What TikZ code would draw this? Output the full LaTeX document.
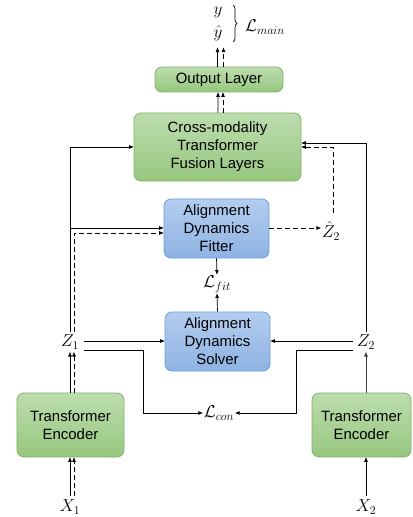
\documentclass[tikz,border=0pt]{standalone}
\usepackage{fontspec}
\setmainfont{Liberation Sans}
\usetikzlibrary{arrows.meta,decorations.pathreplacing}
\definecolor{gtop}{HTML}{BCDDAE}
\definecolor{gbot}{HTML}{97C77F}
\definecolor{gbor}{HTML}{82B366}
\definecolor{btop}{HTML}{B3CDEF}
\definecolor{bbot}{HTML}{8EB3E2}
\definecolor{bbor}{HTML}{6C9EDB}
\begin{document}
\begin{tikzpicture}[x=1bp,y=-1bp,
  every node/.style={font=\fontsize{15}{18}\selectfont},
  gbox/.style={draw=gbor,line width=0.8bp,rounded corners=7bp,top color=gtop,bottom color=gbot,align=center,inner sep=0pt},
  bbox/.style={draw=bbor,line width=0.8bp,rounded corners=7bp,top color=btop,bottom color=bbot,align=center,inner sep=0pt},
  lab/.style={inner sep=1bp,font=\fontsize{18}{20}\selectfont},
  arr/.style={line width=0.7bp,-{Triangle[length=4.5bp,width=3.5bp]}},
  dsh/.style={dashed,dash pattern=on 5bp off 3bp},
  ln/.style={line width=0.7bp}]
\useasboundingbox (0,0) rectangle (412,517);

% boxes
\node[gbox,minimum width=128bp,minimum height=25bp] (out) at (219,79.5) {Output Layer};
\node[gbox,minimum width=167bp,minimum height=68bp] (cross) at (217.5,147) {Cross-modality\\Transformer\\Fusion Layers};
\node[bbox,minimum width=105bp,minimum height=59bp] (fit) at (216.5,228.5) {Alignment\\Dynamics\\Fitter};
\node[bbox,minimum width=105bp,minimum height=59bp] (solv) at (217.5,341.5) {Alignment\\Dynamics\\Solver};
\node[gbox,minimum width=107bp,minimum height=64bp] (enc1) at (70.5,425) {Transformer\\Encoder};
\node[gbox,minimum width=99bp,minimum height=64bp] (enc2) at (361.5,425) {Transformer\\Encoder};

% labels
\node[lab] (y) at (218,12) {$y$};
\node[lab] (yh) at (218,33) {$\hat{y}$};
\node[lab,anchor=west] (lmain) at (244,27) {$\mathcal{L}_{main}$};
\node[lab] (z1) at (70,342) {$Z_1$};
\node[lab] (z2) at (366,342) {$Z_2$};
\node[lab] (x1) at (70,507) {$X_1$};
\node[lab] (x2) at (366,507) {$X_2$};
\node[lab] (zh2) at (331,231) {$\hat{Z}_2$};
\node[lab] (lfit) at (217,284) {$\mathcal{L}_{fit}$};
\node[lab] (lcon) at (219,413) {$\mathcal{L}_{con}$};

% brace
\draw[ln,decorate,decoration={brace,amplitude=4bp}] (233,5) -- (233,42);

% coordinates
\coordinate (z1s) at (70,332);
\coordinate (z1d) at (74,332);
\coordinate (z1b) at (70,352);
\coordinate (z1db) at (74,352);
\coordinate (z1r) at (84,341);
\coordinate (z1r2) at (84,350);
\coordinate (z2t) at (366,332);
\coordinate (z2b) at (366,352);
\coordinate (z2l) at (353,341);
\coordinate (z2l2) at (353,350);
\coordinate (x1s) at (70,496);
\coordinate (x1d) at (74,496);
\coordinate (x2t) at (366,496);
\coordinate (zh2t) at (333,213);

% output arrows
\draw[arr] ([xshift=-1.5bp]out.north) -- ++(0,-19);
\draw[arr,dsh] ([xshift=4.5bp]out.north) -- ++(0,-19);
\draw[arr] ([xshift=0.5bp]cross.north) -- ([xshift=-1bp]out.south);
\draw[arr,dsh] ([xshift=5.5bp]cross.north) -- ([xshift=4bp]out.south);

% Z1 upward
\draw[arr] (z1s) |- (cross.west |- 0,147);
\draw[arr] (70,228) -- (fit.west |- 0,228);
\draw[arr,dsh] (z1d) |- (fit.west |- 0,233);

% fitter outputs
\draw[arr,dsh] (fit.east |- 0,228) -- (zh2.west |- 0,228);
\draw[arr,dsh] (zh2t) |- (cross.east |- 0,147);
\draw[arr] (fit.south) -- (lfit.north);
\draw[arr] (solv.north) -- (lfit.south);

% Z2 upward
\draw[arr] (z2t) |- (cross.east |- 0,143);

% solver inputs
\draw[arr] (z1r) -- (solv.west |- z1r);
\draw[arr] (z2l) -- (solv.east |- z2l);

% contrastive
\draw[arr] (z1r2) -| (143,413) -- (lcon.west);
\draw[arr] (z2l2) -| (296,413) -- (lcon.east);

% encoders
\draw[arr] (enc1.north -| z1b) -- (z1b);
\draw[arr,dsh] (enc1.north -| z1db) -- (z1db);
\draw[arr] (x1s) -- (enc1.south -| x1s);
\draw[arr,dsh] (x1d) -- (enc1.south -| x1d);
\draw[arr,black!75] (enc2.north -| z2b) -- (z2b);
\draw[arr] (x2t) -- (enc2.south -| x2t);
\end{tikzpicture}
\end{document}
